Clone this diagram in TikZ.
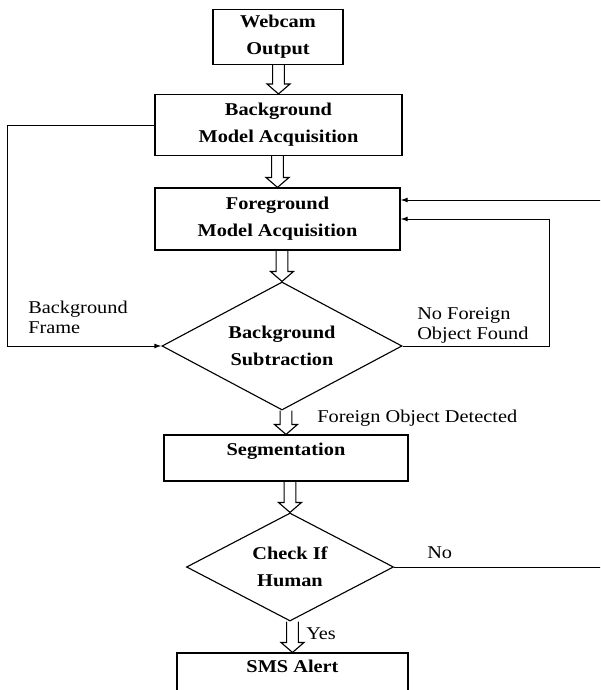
\documentclass[tikz,border=0pt]{standalone}
\usepackage{fontspec}
\setmainfont{Liberation Serif}[FakeStretch=1.13]
\usetikzlibrary{shapes.geometric,arrows.meta,calc}

\tikzset{
  procbox/.style={draw, line width=0.8pt, align=center, inner sep=0pt,
    font=\bfseries\fontsize{12.8}{19}\selectfont},
  decbox/.style={draw, diamond, line width=0.8pt, align=center, inner sep=0pt,
    font=\bfseries\fontsize{12.8}{19}\selectfont},
  flow/.style={line width=0.7pt, -{Latex[length=5pt,width=3.5pt]}},
  fatline/.style={line width=0.8pt},
  note/.style={align=left, inner sep=0pt, anchor=west,
    font=\fontsize{12.8}{14.2}\selectfont}
}

% hollow block arrow from #1 down to #2
\newcommand\fatarrow[2]{%
  \draw[fatline] let \p1=(#1), \p2=(#2) in
    (\x2-4.2pt,\y1) -- (\x2-4.2pt,\y2+7.1pt) -- (\x2-8.2pt,\y2+7.1pt) -- (\x2,\y2)
    -- (\x2+8.2pt,\y2+7.1pt) -- (\x2+4.2pt,\y2+7.1pt) -- (\x2+4.2pt,\y1);}

\begin{document}
\begin{tikzpicture}[x=0.025cm, y=-0.025cm]
  \useasboundingbox (0,0) rectangle (600,690);
  \clip (0,0) rectangle (600,690);

  % blocks
  \node[procbox, minimum width=3.25cm, minimum height=1.375cm] (web) at (278,37) {Webcam\\Output};
  \node[procbox, minimum width=6.175cm, minimum height=1.525cm] (bgm) at (278.5,125) {Background\\Model Acquisition};
  \node[procbox, minimum width=6.125cm, minimum height=1.55cm] (fgm) at (277.5,219) {Foreground\\Model Acquisition};
  \node[decbox, aspect=1.875, minimum width=6cm, minimum height=3.2cm] (sub) at (282,346) {Background\\Subtraction};
  \node[procbox, minimum width=6.1cm, minimum height=1.15cm] (seg) at (286,458) {Segmentation\\[-6pt]\mbox{}};
  \node[decbox, aspect=1.92, minimum width=5.175cm, minimum height=2.7cm] (chk) at (290,567) {Check If\\Human};
  \node[procbox, minimum width=5.775cm, minimum height=1.35cm] (sms) at (292.5,680) {SMS Alert\\ \mbox{}};

  % block arrows
  \fatarrow{web.south}{bgm.north}
  \fatarrow{bgm.south}{fgm.north}
  \fatarrow{fgm.south}{sub.north}
  \fatarrow{sub.south}{seg.north}
  \fatarrow{seg.south}{chk.north}
  \fatarrow{chk.south}{sms.north}

  % loops
  \coordinate (xin) at (610,200);
  \coordinate (nout) at (610,567);
  \draw[flow] (bgm.west) -- ++(-147,0) |- (sub.west);
  \draw[flow] (sub.east) -- ++(147,0) |- (fgm.east);
  \draw[flow] (xin) -- (xin -| fgm.east);
  \draw[line width=0.7pt] (chk.east) -- (nout);

  % labels
  \node[note] (lbgf) at (28,317) {Background\\Frame};
  \node[note] (lnof) at (417,325) {No Foreign\\Object Found};
  \node[note] (lfod) at (317,418) {Foreign Object Detected};
  \node[note] (lno) at (427,553) {No};
  \node[note] (lyes) at (306,634) {Yes};
\end{tikzpicture}
\end{document}
